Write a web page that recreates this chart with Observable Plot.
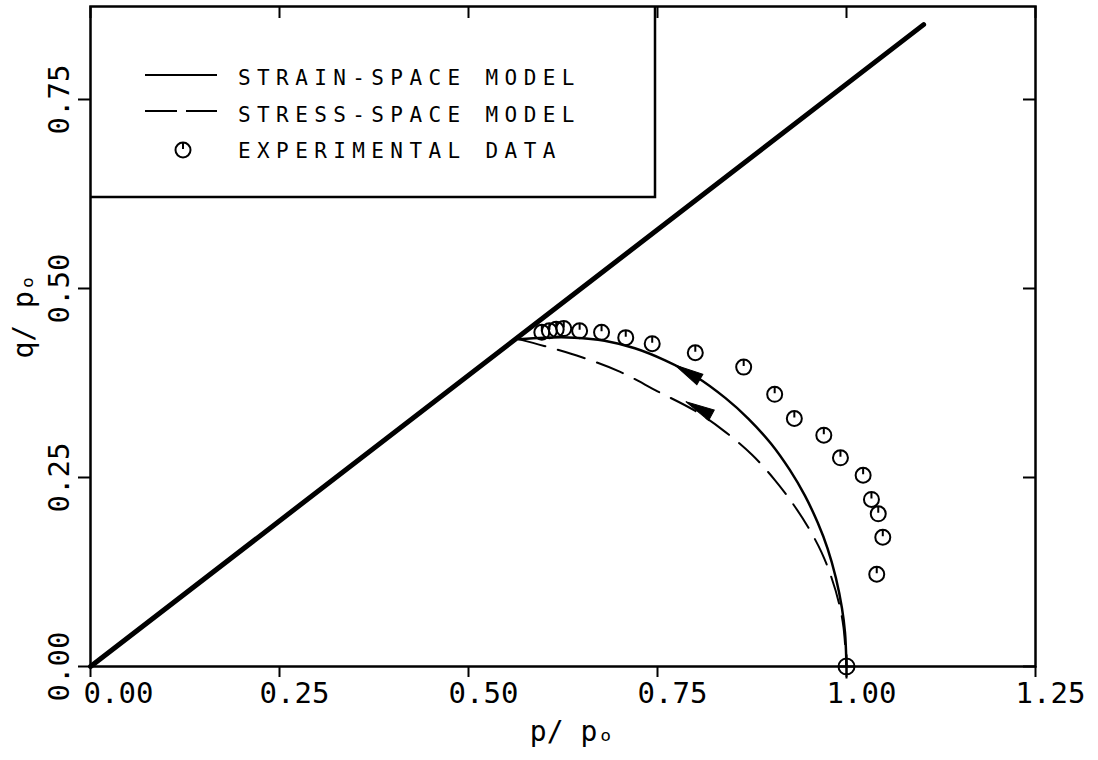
<!DOCTYPE html>
<html><head><meta charset="utf-8">
<script src="https://cdn.jsdelivr.net/npm/d3@7"></script>
<script src="https://cdn.jsdelivr.net/npm/@observablehq/plot@0.6"></script>
<style>
html,body{margin:0;padding:0;background:#fff;}
#chart{position:relative;width:1098px;height:760px;}
</style></head><body><div id="chart"></div>
<script>
// ---- data ----
const xTicks = [0, 0.25, 0.5, 0.75, 1.0, 1.25];
const xTickLabels = ["0.00", "0.25", "0.50", "0.75", "1.00", "1.25"];
const yTicks = [0, 0.25, 0.5, 0.75];
const yTickLabels = ["0.00", "0.25", "0.50", "0.75"];
const xLabel = "p/ p\u2092";
const yLabel = "q/ p\u2092";
const legendLabels = ["STRAIN-SPACE MODEL", "STRESS-SPACE MODEL", "EXPERIMENTAL DATA"];

// critical state line
const cslP = [0, 1.102];
const cslQ = [0, 0.849];
// strain-space model (solid)
const strainP = [0.566, 0.600, 0.640, 0.680, 0.720, 0.760, 0.800, 0.840, 0.870, 0.900, 0.925, 0.945, 0.962, 0.975, 0.986, 0.994, 0.998, 1.000];
const strainQ = [0.433, 0.435, 0.435, 0.431, 0.421, 0.405, 0.384, 0.355, 0.328, 0.295, 0.260, 0.226, 0.190, 0.156, 0.117, 0.077, 0.045, 0.000];
// stress-space model (dashed)
const stressP = [0.566, 0.600, 0.650, 0.700, 0.750, 0.800, 0.840, 0.875, 0.905, 0.930, 0.950, 0.967, 0.980, 0.990, 0.996, 1.000];
const stressQ = [0.433, 0.424, 0.409, 0.390, 0.364, 0.338, 0.310, 0.280, 0.247, 0.214, 0.183, 0.151, 0.118, 0.084, 0.052, 0.000];
// experimental data
const expP = [0.597, 0.607, 0.616, 0.626, 0.647, 0.676, 0.708, 0.743, 0.800, 0.864, 0.905, 0.931, 0.970, 0.992, 1.022, 1.033, 1.042, 1.048, 1.040];
const expQ = [0.442, 0.444, 0.446, 0.447, 0.444, 0.442, 0.435, 0.427, 0.415, 0.396, 0.360, 0.328, 0.306, 0.276, 0.253, 0.221, 0.202, 0.171, 0.122];
// initial state
const startP = [1.0];
const startQ = [0.0];
// direction arrows on the two model paths
const arrowP = [0.790, 0.805];
const arrowQ = [0.389, 0.341];
const arrowAngle = [-60, -62];

// ---- build ----
const zip = (a, b) => a.map((v, i) => ({p: v, q: b[i]}));
const csl = zip(cslP, cslQ);
const strain = zip(strainP, strainQ);
const stress = zip(stressP, stressQ);
const exp = zip(expP, expQ);
const start = zip(startP, startQ);
const arrows = arrowP.map((p, i) => ({p, q: arrowQ[i], a: arrowAngle[i]}));
const xt = xTicks.map((v, i) => ({v, t: xTickLabels[i]}));
const yt = yTicks.map((v, i) => ({v, t: yTickLabels[i]}));

const FONT = "DejaVu Sans Mono";
const expSymbol = {draw(ctx) { const r = 7.5; ctx.moveTo(r, 0); ctx.arc(0, 0, r, 0, 2 * Math.PI); ctx.moveTo(0, -r); ctx.lineTo(0, -1); }};
const startSymbol = {draw(ctx) { const r = 8; ctx.moveTo(r, 0); ctx.arc(0, 0, r, 0, 2 * Math.PI); ctx.moveTo(0, -12); ctx.lineTo(0, 12); ctx.moveTo(-r, 0); ctx.lineTo(r, 0); }};
const arrowSymbol = {draw(ctx) { ctx.moveTo(0, -15); ctx.lineTo(6, 14); ctx.lineTo(-6, 14); ctx.closePath(); }};

const W = 1098, H = 760, ML = 90, MR = 63, MT = 6, MB = 94;
const FW = W - ML - MR, FH = H - MT - MB;

const plot = Plot.plot({
  width: W, height: H,
  marginLeft: ML, marginRight: MR, marginTop: MT, marginBottom: MB,
  style: {background: "white", color: "black", fontFamily: FONT},
  x: {domain: [0, 1.25], axis: null},
  y: {domain: [0, 0.873], axis: null},
  marks: [
    // ticks
    Plot.tickX(xTicks, {x: d => d, insetTop: FH, insetBottom: -11, stroke: "black", strokeWidth: 2}),
    Plot.tickX(xTicks, {x: d => d, insetTop: 0, insetBottom: FH - 12, stroke: "black", strokeWidth: 2}),
    Plot.tickY(yTicks, {y: d => d, insetLeft: -12, insetRight: FW, stroke: "black", strokeWidth: 2}),
    Plot.tickY(yTicks, {y: d => d, insetLeft: FW - 12, insetRight: 0, stroke: "black", strokeWidth: 2}),
    // tick labels
    Plot.text(xt.slice(0, 1), {x: "v", text: "t", frameAnchor: "bottom", dy: 27, dx: 28, fontSize: 29, fontFamily: FONT, lineAnchor: "middle", textAnchor: "middle", fill: "black"}),
    Plot.text(xt.slice(1), {x: "v", text: "t", frameAnchor: "bottom", dy: 27, dx: 15, fontSize: 29, fontFamily: FONT, lineAnchor: "middle", textAnchor: "middle", fill: "black"}),
    Plot.text(yt, {y: "v", text: "t", frameAnchor: "left", dx: -31, rotate: -90, fontSize: 29, fontFamily: FONT, lineAnchor: "middle", textAnchor: "middle", fill: "black"}),
    // axis labels
    Plot.text([xLabel], {text: d => d, frameAnchor: "bottom", dy: 66, dx: 9, fontSize: 28, fontFamily: FONT, lineAnchor: "middle", fill: "black"}),
    Plot.text([yLabel], {text: d => d, frameAnchor: "left", dx: -66, dy: 22, rotate: -90, fontSize: 28, fontFamily: FONT, lineAnchor: "middle", fill: "black"}),
    // data
    Plot.line(csl, {x: "p", y: "q", stroke: "black", strokeWidth: 5}),
    Plot.line(stress, {x: "p", y: "q", stroke: "black", strokeWidth: 2, strokeDasharray: "28,13", curve: "catmull-rom"}),
    Plot.line(strain, {x: "p", y: "q", stroke: "black", strokeWidth: 2.5, curve: "catmull-rom"}),
    Plot.dot(arrows, {x: "p", y: "q", rotate: "a", symbol: arrowSymbol, r: 10, fill: "black", stroke: "black", strokeWidth: 1}),
    Plot.dot(exp, {x: "p", y: "q", symbol: expSymbol, r: 7, fill: "none", stroke: "black", strokeWidth: 2}),
    Plot.dot(start, {x: "p", y: "q", symbol: startSymbol, r: 8, fill: "none", stroke: "black", strokeWidth: 2}),
    Plot.frame({stroke: "black", strokeWidth: 2.5})
  ]
});
document.getElementById("chart").appendChild(plot);

// ---- legend (inside the frame, top-left) ----
const svg = d3.select(plot.tagName.toLowerCase() === "svg" ? plot : plot.querySelector("svg"));
const lg = svg.append("g").attr("class", "legend").attr("text-anchor", "start");
lg.append("path").attr("d", `M${ML},197H655V${MT}`).attr("fill", "none").attr("stroke", "black").attr("stroke-width", 2.5);
const rowsY = [77, 114, 150];
lg.append("line").attr("x1", 145).attr("x2", 217).attr("y1", rowsY[0] - 2).attr("y2", rowsY[0] - 2).attr("stroke", "black").attr("stroke-width", 2);
lg.append("line").attr("x1", 145).attr("x2", 217).attr("y1", rowsY[1] - 3).attr("y2", rowsY[1] - 3).attr("stroke", "black").attr("stroke-width", 2).attr("stroke-dasharray", "32,9");
lg.append("path").attr("transform", `translate(183,${rowsY[2]})`).attr("d", d3.symbol(expSymbol, 1)()).attr("fill", "none").attr("stroke", "black").attr("stroke-width", 2);
legendLabels.forEach((t, i) => {
  lg.append("text").attr("x", 238).attr("y", rowsY[i] + 7.5).attr("text-anchor", "start")
    .attr("font-family", FONT).attr("font-size", 21)
    .attr("letter-spacing", 6.4).attr("fill", "black").text(t);
});
</script></body></html>
